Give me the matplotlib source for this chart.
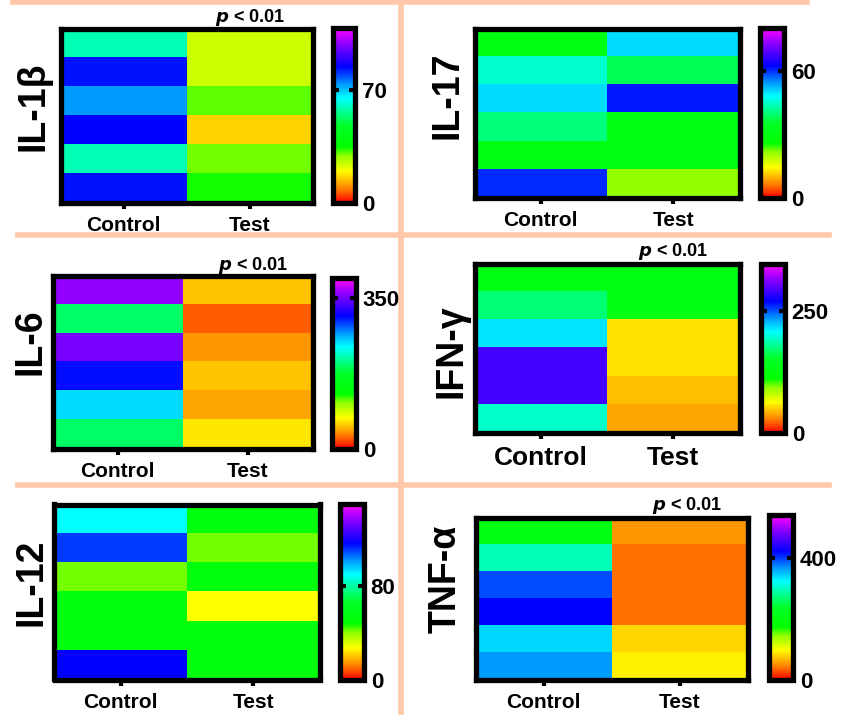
import numpy as np
import matplotlib
matplotlib.use("Agg")
import matplotlib.pyplot as plt
from matplotlib.colors import LinearSegmentedColormap
from matplotlib.lines import Line2D

plt.rcParams['font.family'] = ['Liberation Sans', 'DejaVu Sans']
plt.rcParams['font.weight'] = 'bold'

W, H = 841, 720

# ---- data (rows top -> bottom) ----
groups = ["Control", "Test"]
names = ["IL-1β", "IL-17", "IL-6", "IFN-γ", "IL-12", "TNF-α"]

il1b_control = [59, 83, 73, 84, 59, 83]
il1b_test = [24, 24, 31, 16, 30, 34]
il17_control = [30, 45, 50, 40, 30, 60]
il17_test = [50, 38, 61, 30, 30, 21]
il6_control = [360, 192, 352, 304, 248, 192]
il6_test = [54, 24, 40, 54, 44, 64]
ifng_control = [131, 172, 214, 290, 290, 193]
ifng_test = [131, 131, 55, 55, 45, 38]
il12_control = [90, 111, 42, 54, 54, 117]
il12_test = [54, 42, 54, 27, 54, 54]
tnfa_control = [205, 297, 394, 421, 340, 367]
tnfa_test = [54, 38, 38, 38, 81, 92]

vmaxs = [108, 80, 395, 345, 150, 540]
cbar_ticks = [70, 60, 350, 250, 80, 400]
pvalue = [True, False, True, True, False, True]

controls = [il1b_control, il17_control, il6_control, ifng_control, il12_control, tnfa_control]
tests = [il1b_test, il17_test, il6_test, ifng_test, il12_test, tnfa_test]

# ---- layout in pixels (x0, y0, x1, y1) ----
heat_box = [(58, 26, 315, 205), (472, 26, 742, 200), (50, 273, 315, 451),
            (472, 262, 742, 435), (52, 502, 322, 682), (473, 515, 750, 682)]
cbar_box = [(331, 26, 357, 205), (758, 26, 786, 200), (330, 276, 358, 451),
            (759, 262, 787, 435), (338, 502, 366, 682), (767, 513, 795, 682)]
ylab_pos = [(33, 106), (447, 95), (31, 342), (452, 351), (32, 582), (446, 579)]
p_pos = [(250, 17), None, (253, 265), (673, 252), None, (687, 505)]
xt_size = [15, 15, 15, 19, 15, 15]

rainbow = LinearSegmentedColormap.from_list("prism_rainbow", [
    (0.00, (1.0, 0.0, 0.0)),
    (0.08, (1.0, 0.5, 0.0)),
    (0.18, (1.0, 1.0, 0.0)),
    (0.27, (0.55, 1.0, 0.0)),
    (0.32, (0.0, 1.0, 0.0)),
    (0.44, (0.0, 1.0, 0.15)),
    (0.60, (0.0, 1.0, 1.0)),
    (0.68, (0.0, 0.6, 1.0)),
    (0.78, (0.0, 0.0, 1.0)),
    (0.90, (0.5, 0.0, 1.0)),
    (1.00, (1.0, 0.0, 1.0)),
])


def px_axes(fig, box, inset=2.5):
    x0, y0, x1, y1 = box
    x0 += inset; x1 -= inset; y0 += inset; y1 -= inset
    return fig.add_axes([x0 / W, 1 - y1 / H, (x1 - x0) / W, (y1 - y0) / H])


fig = plt.figure(figsize=(W / 100, H / 100), dpi=100)

# peach separator lines
peach = "#FFC8A8"
seps = [((13, 807), (1.5, 1.5)), ((18, 401), (235, 235)), ((401, 829), (235, 235)),
        ((18, 401), (485, 485)), ((401, 829), (485, 485)), ((401, 401), (0, 712))]
for xs, ys in seps:
    fig.add_artist(Line2D([x / W for x in xs], [1 - y / H for y in ys],
                          color=peach, lw=4, transform=fig.transFigure, zorder=0))

for i in range(6):
    data = np.column_stack([controls[i], tests[i]])
    ax = px_axes(fig, heat_box[i])
    im = ax.imshow(data, cmap=rainbow, vmin=0, vmax=vmaxs[i], aspect='auto',
                   interpolation='nearest')
    for s in ax.spines.values():
        s.set_linewidth(3.8)
    ax.set_xticks([0, 1])
    ax.set_xticklabels(groups, fontsize=xt_size[i], fontweight='bold')
    ax.set_yticks([])
    ax.tick_params(axis='x', length=4, width=3, pad=6)

    cax = px_axes(fig, cbar_box[i], inset=2.2)
    cb = fig.colorbar(im, cax=cax)
    cb.outline.set_linewidth(3.8)
    cb.set_ticks([0, cbar_ticks[i]])
    cax.yaxis.set_ticks_position('both')
    cax.tick_params(axis='y', direction='in', length=4.5, width=3, labelsize=16,
                    pad=5, labelleft=False, labelright=True)
    cax.tick_params(axis='y', which='minor', length=0)
    for lab in cax.get_yticklabels():
        lab.set_fontweight('bold')

    lx, ly = ylab_pos[i]
    fig.text(lx / W, 1 - ly / H, names[i], rotation=90, fontsize=27,
             fontweight='bold', ha='center', va='center')

    if pvalue[i]:
        px, py = p_pos[i]
        fig.text(px / W, 1 - py / H, r"$\bf{\it{p}}$ < 0.01", fontsize=13,
                 fontweight='bold', ha='center', va='center')

fig.savefig("out.png", dpi=100)
